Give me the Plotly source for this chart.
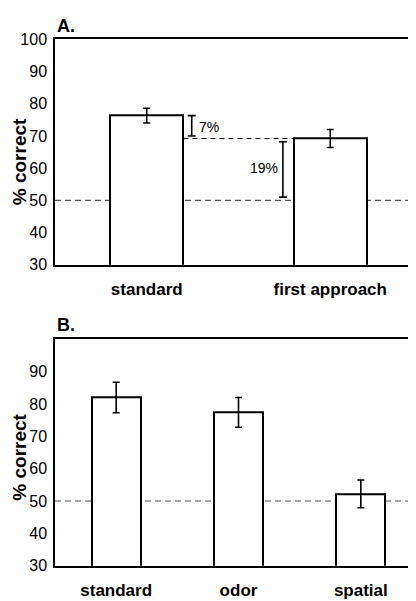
import plotly.graph_objects as go

# Panel A data
a_categories = ["standard", "first approach"]
a_values = [76.3, 69.2]
a_errors = [2.3, 2.8]

# Panel A annotation brackets (low, high) and labels
a_bracket_labels = ["7%", "19%"]
a_bracket_x = [0.245, 0.742]
a_bracket_low = [70.0, 51.0]
a_bracket_high = [76.3, 68.2]
a_label_x = [0.34, 0.64]
a_label_y = [72.9, 59.9]

# Panel B data
b_categories = ["standard", "odor", "spatial"]
b_values = [82.0, 77.4, 52.2]
b_errors = [4.7, 4.6, 4.3]

chance = 50
a_ticks = [30, 40, 50, 60, 70, 80, 90, 100]
b_ticks = [30, 40, 50, 60, 70, 80, 90]

NARROW = "Liberation Sans Narrow, Arial Narrow, sans-serif"
SANS = "Liberation Sans, Arial, sans-serif"

fig = go.Figure()

bar_style = dict(marker=dict(color="white", line=dict(color="black", width=2)),
                 width=0.4, showlegend=False, hoverinfo="skip")
err_style = dict(type="data", color="black", thickness=1.6, width=3.5)

fig.add_trace(go.Bar(x=list(range(len(a_categories))), y=a_values,
                     error_y=dict(array=a_errors, **err_style),
                     xaxis="x", yaxis="y", **bar_style))
fig.add_trace(go.Bar(x=list(range(len(b_categories))), y=b_values,
                     error_y=dict(array=b_errors, **err_style),
                     xaxis="x2", yaxis="y2", **bar_style))

# brackets as error bars around midpoints
mids = [(lo + hi) / 2 for lo, hi in zip(a_bracket_low, a_bracket_high)]
halfs = [(hi - lo) / 2 for lo, hi in zip(a_bracket_low, a_bracket_high)]
fig.add_trace(go.Scatter(x=a_bracket_x, y=mids, mode="markers",
                         marker=dict(size=1, color="rgba(0,0,0,0)"),
                         error_y=dict(type="data", array=halfs, color="black",
                                      thickness=1.6, width=4),
                         xaxis="x", yaxis="y", showlegend=False, hoverinfo="skip"))

shapes = []
# chance lines
for xr, yr in [("x domain", "y"), ("x2 domain", "y2")]:
    shapes.append(dict(type="line", xref=xr, yref=yr, x0=0, x1=1, y0=chance, y1=chance,
                       line=dict(color="#555555", width=1.2, dash="6px,4px"), layer="below"))
# dashed connector between bars in A
shapes.append(dict(type="line", xref="x", yref="y", x0=0.2, x1=0.8,
                   y0=a_values[1], y1=a_values[1],
                   line=dict(color="black", width=1.1, dash="5px,4px")))
fig.update_layout(shapes=shapes)

ann = []
for lbl, lx, ly in zip(a_bracket_labels, a_label_x, a_label_y):
    ann.append(dict(text=lbl, x=lx, y=ly, xref="x", yref="y", showarrow=False,
                    font=dict(family=SANS, size=14, color="black")))
# panel letters
ann.append(dict(text="<b>A.</b>", x=48 / 416, y=1 - 10 / 601, xref="paper", yref="paper",
                xanchor="left", yanchor="middle", showarrow=False, borderpad=0,
                font=dict(family=SANS, size=18, color="black")))
ann.append(dict(text="<b>B.</b>", x=48 / 416, y=1 - 318 / 601, xref="paper", yref="paper",
                xanchor="left", yanchor="middle", showarrow=False, borderpad=0,
                font=dict(family=SANS, size=18, color="black")))
# y titles
for yc in [150, 454]:
    ann.append(dict(text="<b>% correct</b>", x=0, y=1 - yc / 601, xref="paper", yref="paper",
                    textangle=-90, xanchor="left", yanchor="middle", showarrow=False,
                    borderpad=0,
                    font=dict(family=SANS, size=19, color="black")))
fig.update_layout(annotations=ann)

axis_common = dict(showline=True, linecolor="black", linewidth=1.5, mirror=True,
                   showgrid=False, zeroline=False, ticks="")

fig.update_layout(
    width=416, height=601,
    margin=dict(l=0, r=0, t=0, b=0),
    paper_bgcolor="white", plot_bgcolor="white",
    showlegend=False,
    bargap=0,
    xaxis=dict(domain=[47 / 416, 414 / 416], range=[-0.5, 1.5], anchor="y",
               tickvals=list(range(len(a_categories))), ticktext=a_categories,
               tickfont=dict(family=SANS, size=17, color="black", weight="bold"),
               ticklabelstandoff=8, **axis_common),
    yaxis=dict(domain=[1 - 256 / 601, 1 - 24 / 601], range=[30, 100], anchor="x",
               tickvals=a_ticks,
               tickfont=dict(family=NARROW, size=16, color="black"),
               ticklabelstandoff=3, **axis_common),
    xaxis2=dict(domain=[47 / 416, 414 / 416], range=[-0.5, 2.5], anchor="y2",
                tickvals=list(range(len(b_categories))), ticktext=b_categories,
                tickfont=dict(family=SANS, size=17, color="black", weight="bold"),
                ticklabelstandoff=8, **axis_common),
    yaxis2=dict(domain=[1 - 565.7 / 601, 1 - 332.7 / 601], range=[30, 100], anchor="x2",
                tickvals=b_ticks,
                tickfont=dict(family=NARROW, size=16, color="black"),
                ticklabelstandoff=3, **axis_common),
)

fig.write_html("out.html")
